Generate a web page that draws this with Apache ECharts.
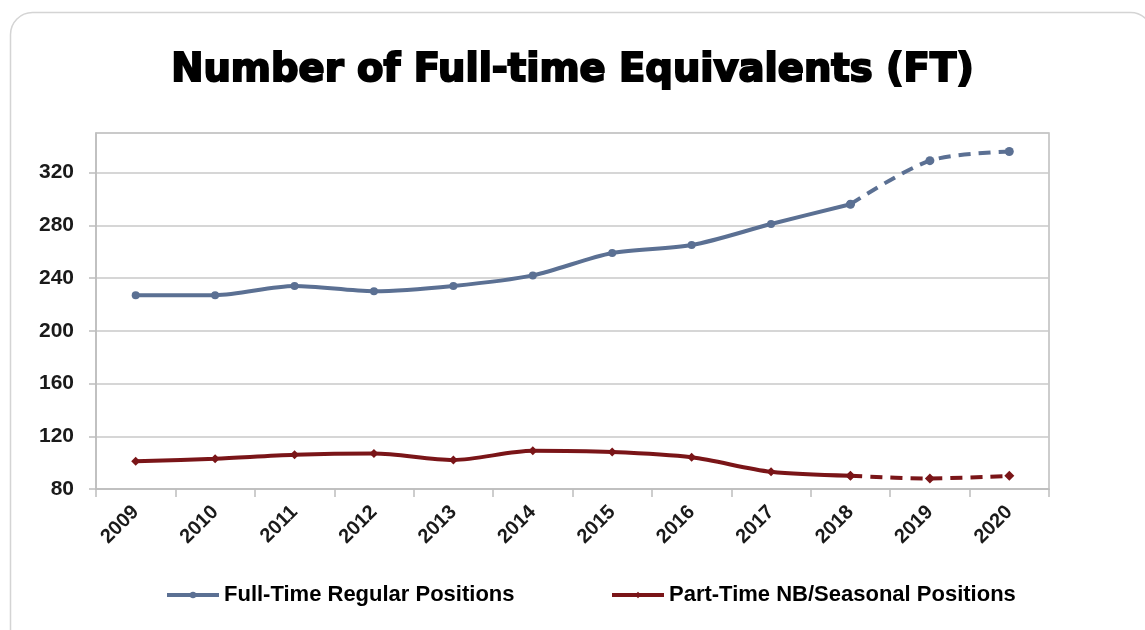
<!DOCTYPE html>
<html>
<head>
    <meta charset="UTF-8">
    <title>Number of Full-time Equivalents (FT)</title>
    <script type="text/javascript" src="https://cdn.jsdelivr.net/npm/echarts@6/dist/echarts.min.js"></script>
    <style>
        html, body { margin: 0; padding: 0; background: #fff; }
        #main { width: 1145px; height: 630px; }
    </style>
</head>
<body>
<div id="main"></div>
<script>
    // data
    var years = ['2009', '2010', '2011', '2012', '2013', '2014', '2015', '2016', '2017', '2018', '2019', '2020'];
    var fullTime = [227, 227, 234, 230, 234, 242, 259, 265, 281, 296, 329, 336];
    var partTime = [101, 103, 106, 107, 102, 109, 108, 104, 93, 90, 88, 90];
    var yTicks = [80, 120, 160, 200, 240, 280, 320];
    var lastActual = 9; // 2018, after that the line is dashed

    var blue = '#5b7093';
    var red = '#7a1518';

    // split a series into actual part (solid) and projected part (dashed)
    function solidPart(arr) {
        return arr.map(function (v, i) { return i <= lastActual ? v : null; });
    }
    function dashPart(arr) {
        return arr.map(function (v, i) { return i >= lastActual ? v : null; });
    }

    var myChart = echarts.init(document.getElementById('main'));
    var labelFont = {fontFamily: 'Liberation Sans, Arial, sans-serif', fontWeight: 'bold', color: '#1a1a1a'};
    var legendText = {fontFamily: 'Liberation Sans, Arial, sans-serif', fontWeight: 'bold', fontSize: 22, color: '#000'};

    myChart.setOption({
        backgroundColor: '#fff',
        animation: false,
        title: {
            text: 'Number of Full-time Equivalents (FT)',
            left: 'center',
            top: 46,
            textStyle: {
                fontFamily: 'DejaVu Sans, sans-serif',
                fontWeight: 900,
                fontSize: 38.5,
                color: '#000',
                textBorderColor: '#000',
                textBorderWidth: 2
            }
        },
        graphic: [{
            type: 'rect',
            left: 8,
            top: 10,
            shape: {width: 1142, height: 650, r: 22},
            style: {fill: 'none', stroke: '#d4d4d4', lineWidth: 1.5},
            silent: true
        }],
        legend: [{
            data: ['Full-Time Regular Positions'],
            left: 160,
            top: 579,
            itemWidth: 52,
            itemHeight: 8,
            lineStyle: {width: 4},
            textStyle: legendText
        }, {
            data: ['Part-Time NB/Seasonal Positions'],
            left: 605,
            top: 579,
            itemWidth: 52,
            itemHeight: 8,
            lineStyle: {width: 4},
            textStyle: legendText
        }],
        grid: {
            left: 96,
            right: 96,
            top: 133,
            bottom: 141,
            show: true,
            borderColor: '#bdbdbd',
            borderWidth: 1.5
        },
        xAxis: {
            type: 'category',
            data: years,
            boundaryGap: true,
            axisLine: {lineStyle: {color: '#bdbdbd', width: 1.5}},
            axisTick: {show: true, length: 8, lineStyle: {color: '#bdbdbd', width: 1.5}},
            axisLabel: Object.assign({rotate: 45, fontSize: 20, margin: 20, interval: 0}, labelFont)
        },
        yAxis: {
            type: 'value',
            min: 80,
            max: 350,
            interval: 40,
            axisLine: {show: true, lineStyle: {color: '#bdbdbd', width: 1.5}},
            axisTick: {show: true, length: 7, lineStyle: {color: '#bdbdbd', width: 1.5}},
            splitLine: {lineStyle: {color: '#c8c8c8', width: 1.5}},
            axisLabel: Object.assign({
                fontSize: 21,
                margin: 22,
                showMaxLabel: false,
                formatter: function (v) { return yTicks.indexOf(v) >= 0 ? String(v) : ''; }
            }, labelFont)
        },
        series: [{
            name: 'Full-Time Regular Positions',
            type: 'line',
            data: solidPart(fullTime),
            smooth: 0.3,
            symbol: 'circle',
            symbolSize: 8,
            color: blue,
            lineStyle: {color: blue, width: 4},
            itemStyle: {color: blue}
        }, {
            name: 'Full-Time Regular Positions',
            type: 'line',
            data: dashPart(fullTime),
            smooth: 0.3,
            symbol: 'circle',
            symbolSize: 9,
            color: blue,
            lineStyle: {color: blue, width: 4, type: [12, 8]},
            itemStyle: {color: blue}
        }, {
            name: 'Part-Time NB/Seasonal Positions',
            type: 'line',
            data: solidPart(partTime),
            smooth: 0.3,
            symbol: 'diamond',
            symbolSize: 9,
            color: red,
            lineStyle: {color: red, width: 4},
            itemStyle: {color: red}
        }, {
            name: 'Part-Time NB/Seasonal Positions',
            type: 'line',
            data: dashPart(partTime),
            smooth: 0.3,
            symbol: 'diamond',
            symbolSize: 10,
            color: red,
            lineStyle: {color: red, width: 4, type: [12, 8]},
            itemStyle: {color: red}
        }]
    });
</script>
</body>
</html>
